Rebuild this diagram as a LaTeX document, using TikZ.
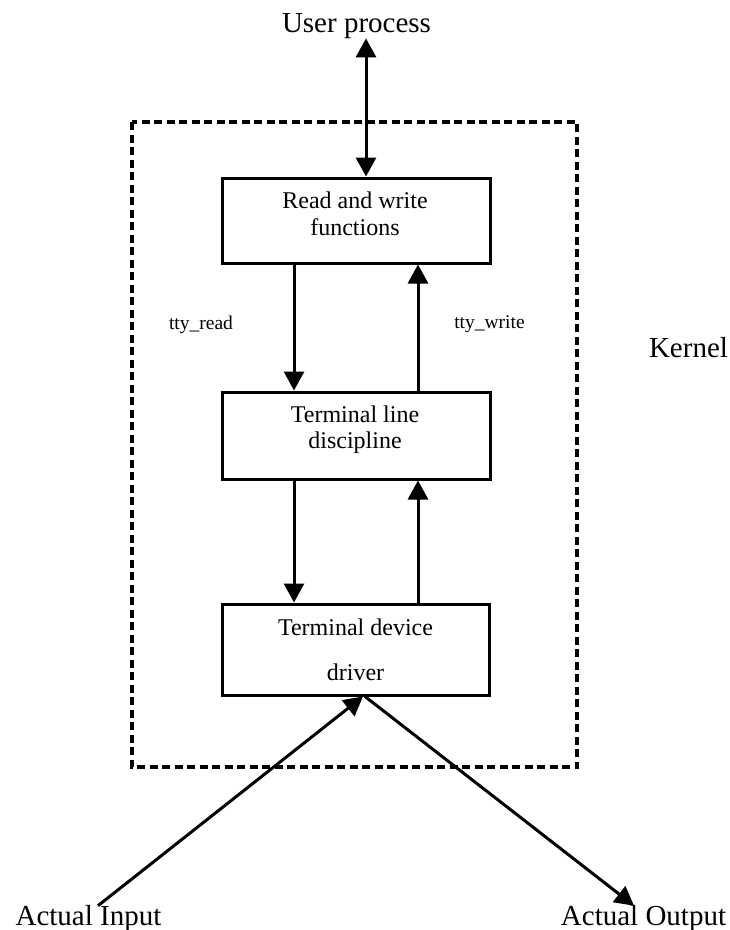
\documentclass[tikz,border=0pt]{standalone}
\usepackage{fontspec}
\setmainfont{Liberation Serif}
\usetikzlibrary{arrows.meta}

\begin{document}
\begin{tikzpicture}[x=1pt, y=-1pt,
  bigtext/.style={inner sep=0pt, anchor=base, font=\fontsize{29}{33}\selectfont},
  boxtext/.style={inner sep=0pt, anchor=base, font=\fontsize{24}{27}\selectfont},
  smalltext/.style={inner sep=0pt, anchor=base, font=\fontsize{19.5}{22}\selectfont},
  stage/.style={draw, line width=3pt, rectangle, inner sep=0pt, minimum width=268pt},
  tip/.tip={Triangle[width=20pt,length=19pt]},
  flow/.style={line width=3pt, -tip},
  twoway/.style={line width=3pt, tip-tip},
  kernelbox/.style={line width=3.2pt, dash pattern=on 8pt off 4.5pt}
]
\useasboundingbox (0,0) rectangle (730,930);

% kernel boundary
\draw[kernelbox] (132,122) rectangle (577,767);

% the three stages
\node[stage, minimum height=85pt] (rw) at (356,220.5) {};
\node[stage, minimum height=87pt] (ld) at (356,435.5) {};
\node[stage, minimum height=91pt, minimum width=267pt] (dd) at (355.5,649.5) {};

\node[boxtext] (rw1) at (355,208) {Read and write};
\node[boxtext] (rw2) at (355,235) {functions};
\node[boxtext] (ld1) at (355,422) {Terminal line};
\node[boxtext] (ld2) at (355,448) {discipline};
\node[boxtext] (dd1) at (355.5,635) {Terminal device};
\node[boxtext] (dd2) at (355.5,680) {driver};

% outer labels
\node[bigtext] (up) at (356.5,32) {User process};
\node[bigtext] (kern) at (688.5,357) {Kernel};
\node[bigtext] (ai) at (88.5,925) {Actual Input};
\node[bigtext] (ao) at (643.5,925) {Actual Output};

\node[smalltext] (tr) at (201,329) {tty\_read};
\node[smalltext] (tw) at (489.5,328) {tty\_write};

% column positions of the vertical connectors
\coordinate (cu) at (366,0);
\coordinate (cd) at (294,0);
\coordinate (cw) at (418,0);

% user process <-> read/write functions
\draw[twoway] (up.south -| cu) -- (rw.north -| cu);

% read/write <-> line discipline
\draw[flow] (rw.south -| cd) -- (ld.north -| cd);
\draw[flow] (ld.north -| cw) -- (rw.south -| cw);

% line discipline <-> device driver
\draw[flow] (ld.south -| cd) -- (dd.north -| cd);
\draw[flow] (dd.north -| cw) -- (ld.south -| cw);

% device driver <-> hardware
\draw[flow] ([xshift=9.5pt,yshift=-1pt]ai.north) -- ([xshift=7.5pt]dd.south);
\draw[flow] ([xshift=9.5pt]dd.south) -- ([xshift=-9.5pt,yshift=-1pt]ao.north);
\end{tikzpicture}
\end{document}
